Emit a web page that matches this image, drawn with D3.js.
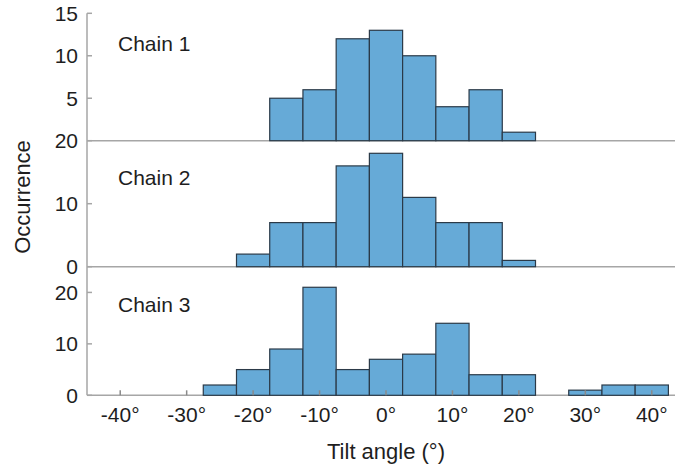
<!DOCTYPE html>
<html lang="en">
<head>
<meta charset="UTF-8">
<title>Tilt angle histograms</title>
<style>
    body { margin: 0; background: #fff; }
    text { font-family: "Liberation Sans", Arial, sans-serif; fill: #1e1e1e; }
</style>
</head>
<body>
<script src="https://cdn.jsdelivr.net/npm/d3@7"></script>
<script type="text/javascript">
    // bin centers (deg), 5 deg wide
    var chain1Bins = [-15, -10, -5, 0, 5, 10, 15, 20];
    var chain1Counts = [5, 6, 12, 13, 10, 4, 6, 1];
    var chain2Bins = [-20, -15, -10, -5, 0, 5, 10, 15, 20];
    var chain2Counts = [2, 7, 7, 16, 18, 11, 7, 7, 1];
    var chain3Bins = [-25, -20, -15, -10, -5, 0, 5, 10, 15, 20, 25, 30, 35, 40];
    var chain3Counts = [2, 5, 9, 21, 5, 7, 8, 14, 4, 4, 0, 1, 2, 2];
    var xTicks = [-40, -30, -20, -10, 0, 10, 20, 30, 40];
    var binWidth = 5;

    var w = 675, h = 470;
    var svg = d3.select("body").append("svg").attr("width", w).attr("height", h);

    var x = d3.scaleLinear().domain([-45, 45]).range([87, 685]);

    var panels = [
        {name: "Chain 1", bins: chain1Bins, counts: chain1Counts, ymax: 15, ticks: [5, 10, 15], top: 13.3, bottom: 140.7, lab: 30},
        {name: "Chain 2", bins: chain2Bins, counts: chain2Counts, ymax: 20, ticks: [0, 10, 20], top: 140.7, bottom: 266.7, lab: 37},
        {name: "Chain 3", bins: chain3Bins, counts: chain3Counts, ymax: 25, ticks: [0, 10, 20], top: 266.7, bottom: 395.3, lab: 38}
    ];

    var axisColor = "#a6a6a6";

    panels.forEach(function (p, k) {
        var y = d3.scaleLinear().domain([0, p.ymax]).range([p.bottom, p.top]);
        var g = svg.append("g");

        // baseline across the whole width
        g.append("line")
            .attr("x1", x(-45)).attr("x2", w)
            .attr("y1", y(0)).attr("y2", y(0))
            .attr("stroke", axisColor).attr("stroke-width", 1.5);

        var data = p.bins.map(function (b, i) { return {c: b, n: p.counts[i]}; })
            .filter(function (d) { return d.n > 0; });

        g.selectAll("rect").data(data).enter().append("rect")
            .attr("x", function (d) { return x(d.c - binWidth / 2); })
            .attr("y", function (d) { return y(d.n); })
            .attr("width", function (d) { return x(d.c + binWidth / 2) - x(d.c - binWidth / 2); })
            .attr("height", function (d) { return y(0) - y(d.n); })
            .attr("fill", "#66aad7")
            .attr("stroke", "#2b3a48")
            .attr("stroke-width", 1.2);

        // y ticks (inward)
        g.selectAll("line.yt").data(p.ticks).enter().append("line")
            .attr("class", "yt")
            .attr("x1", x(-45)).attr("x2", x(-45) + 5)
            .attr("y1", function (d) { return y(d); })
            .attr("y2", function (d) { return y(d); })
            .attr("stroke", axisColor).attr("stroke-width", 1.5);

        g.selectAll("text.yl").data(p.ticks).enter().append("text")
            .attr("class", "yl")
            .attr("x", 78)
            .attr("y", function (d) { return y(d); })
            .attr("dy", "0.36em")
            .attr("text-anchor", "end")
            .attr("font-size", "21px")
            .text(function (d) { return d; });

        g.append("text")
            .attr("x", 118)
            .attr("y", p.top + p.lab)
            .attr("dy", "0.36em")
            .attr("font-size", "21px")
            .attr("fill", "#000")
            .text(p.name);

        if (k === 2) {
            g.selectAll("line.xt").data(xTicks).enter().append("line")
                .attr("class", "xt")
                .attr("x1", function (d) { return x(d); })
                .attr("x2", function (d) { return x(d); })
                .attr("y1", y(0)).attr("y2", y(0) - 5)
                .attr("stroke", "#8a8a8a").attr("stroke-width", 1.5);

            g.selectAll("text.xl").data(xTicks).enter().append("text")
                .attr("class", "xl")
                .attr("x", function (d) { return x(d); })
                .attr("y", 414)
                .attr("dy", "0.36em")
                .attr("text-anchor", "middle")
                .attr("font-size", "21px")
                .text(function (d) { return d + "\u00b0"; });
        }
    });

    // y axis line
    svg.append("line")
        .attr("x1", x(-45)).attr("x2", x(-45))
        .attr("y1", 13.3).attr("y2", 395.3)
        .attr("stroke", axisColor).attr("stroke-width", 1.5);

    svg.append("text")
        .attr("transform", "translate(22,197) rotate(-90)")
        .attr("text-anchor", "middle")
        .attr("dy", "0.36em")
        .attr("font-size", "22px")
        .text("Occurrence");

    svg.append("text")
        .attr("x", 386)
        .attr("y", 451)
        .attr("dy", "0.36em")
        .attr("text-anchor", "middle")
        .attr("font-size", "22px")
        .text("Tilt angle (\u00b0)");
</script>
</body>
</html>
